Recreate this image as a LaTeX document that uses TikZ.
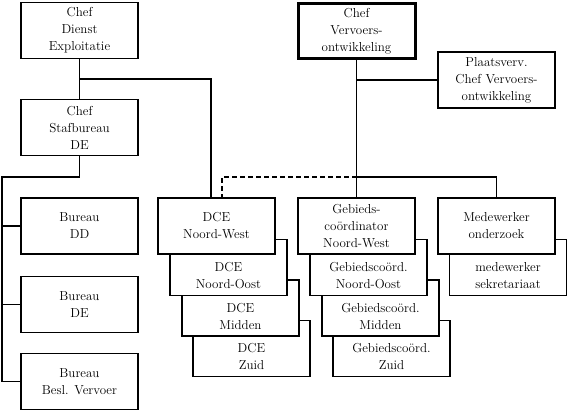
\documentclass[tikz,border=0pt]{standalone}
\usetikzlibrary{positioning}

\begin{document}
\begin{tikzpicture}
        [
            x=1pt, y=-1pt,
            every node/.style={font=\fontsize{13}{17}\selectfont},
            box/.style={draw, fill=white, line width=1.2pt, minimum width=117pt, minimum height=56pt, align=center, inner sep=0pt},
            head/.style={box, line width=3pt, minimum height=55pt},
            tag/.style={align=center, inner sep=0pt},
            link/.style={line width=1.2pt},
        ]
        \useasboundingbox (0,0) rectangle (567,411);

        % left column
        \node[box] (chefde) at (79.5,30.5) {Chef\\Dienst\\Exploitatie};
        \node[box] (staf) at (79.5,127.5) {Chef\\Stafbureau\\DE};
        \node[box] (bdd) at (79.5,226) {Bureau\\DD};
        \node[box] (bde) at (79.5,304.5) {Bureau\\DE};
        \node[box] (bbv) at (79.5,381.5) {Bureau\\Besl. Vervoer};

        % top right
        \node[head] (chefvo) at (356.5,31) {Chef\\Vervoers-\\ontwikkeling};
        \node[box] (plv) at (496.5,80) {Plaatsverv.\\Chef Vervoers-\\ontwikkeling};

        % DCE stack
        \node[box] (dcezd) at (251.5,348.5) {};
        \node[tag] (dcezdt) at ([yshift=-8pt]dcezd.center) {DCE\\Zuid};
        \node[box] (dcemd) at (240.5,308) {};
        \node[tag] (dcemdt) at ([yshift=-8pt]dcemd.center) {DCE\\Midden};
        \node[box] (dceno) at (228.5,267.5) {};
        \node[tag] (dcenot) at ([yshift=-8pt]dceno.center) {DCE\\Noord-Oost};
        \node[box] (dcenw) at (216.5,226) {DCE\\Noord-West};

        % Gebiedscoordinator stack
        \node[box] (gczd) at (391.5,348.5) {};
        \node[tag] (gczdt) at ([yshift=-8pt]gczd.center) {Gebiedscoörd.\\Zuid};
        \node[box] (gcmd) at (380.5,308) {};
        \node[tag] (gcmdt) at ([yshift=-8pt]gcmd.center) {Gebiedscoörd.\\Midden};
        \node[box] (gcno) at (368.5,267.5) {};
        \node[tag] (gcnot) at ([yshift=-8pt]gcno.center) {Gebiedscoörd.\\Noord-Oost};
        \node[box] (gcnw) at (356.5,226) {Gebieds-\\coördinator\\Noord-West};

        % medewerkers
        \node[box] (mws) at (508,267.5) {};
        \node[tag] (mwst) at ([yshift=-8pt]mws.center) {medewerker\\sekretariaat};
        \node[box] (mwo) at (496.5,226) {Medewerker\\onderzoek};

        % connectors
        \coordinate (j1) at (79.5,79);
        \coordinate (spine) at (2,177);
        \coordinate (j2) at (356.5,177);
        \draw[link] (chefde) -- (staf);
        \draw[link] (j1) -| ([xshift=-5.5pt]dcenw.north);
        \draw[link] (staf.south) |- (spine) |- (bbv.west);
        \draw[link] (spine |- bdd.west) -- (bdd.west);
        \draw[link] (spine |- bde.west) -- (bde.west);
        \draw[link] (chefvo.south) -- (gcnw.north);
        \draw[link] (chefvo.south |- plv.west) -- (plv.west);
        \draw[link] (j2) -| (mwo.north);
        \draw[link, dash pattern=on 5pt off 3pt] (j2) -| ([xshift=5.5pt]dcenw.north);
    \end{tikzpicture}
\end{document}
